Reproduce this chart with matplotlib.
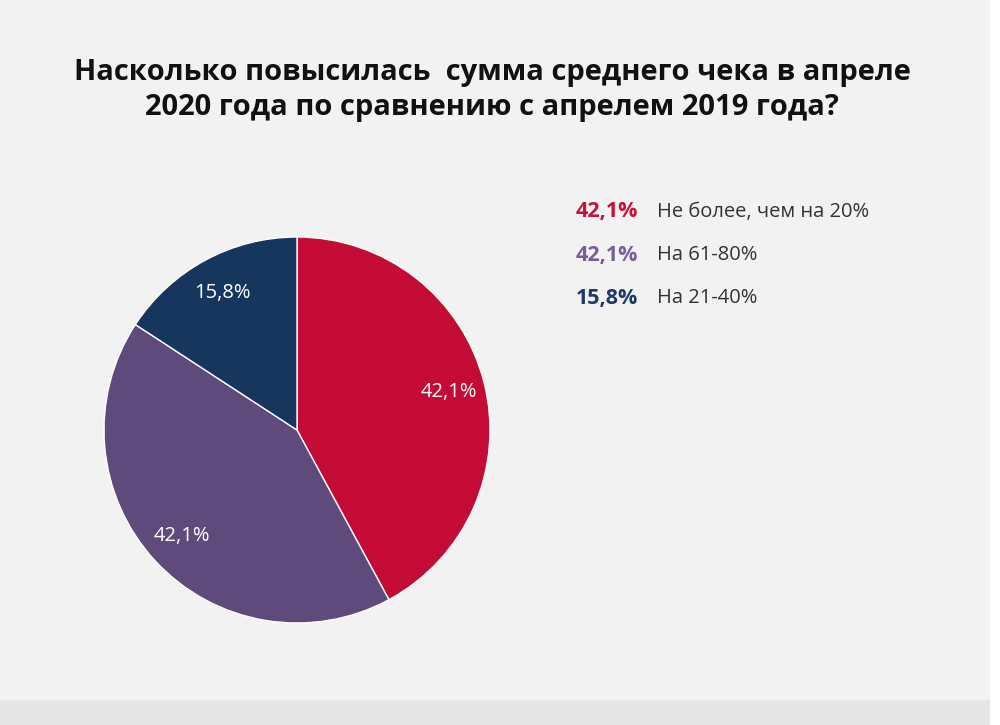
import matplotlib
matplotlib.use("Agg")
import matplotlib.pyplot as plt
from matplotlib.patches import Rectangle

title = "Насколько повысилась  сумма среднего чека в апреле\n2020 года по сравнению с апрелем 2019 года?"
categories = ["Не более, чем на 20%", "На 61-80%", "На 21-40%"]
values = [42.1, 42.1, 15.8]
pct_labels = ["42,1%", "42,1%", "15,8%"]
colors = ["#c30b36", "#5f4a7c", "#17365d"]
legend_colors = ["#c8103a", "#7a5c9c", "#1b3a68"]

W, H = 1000, 725
fig = plt.figure(figsize=(10, 7.25), dpi=100)
fig.patch.set_facecolor("#f2f2f2")

# bottom band and right stripe
fig.patches.append(Rectangle((0, 0), 1, 25 / H, transform=fig.transFigure,
                             facecolor="#e6e6e6", edgecolor="none", zorder=0))
fig.patches.append(Rectangle((990 / W, 0), 10 / W, 1, transform=fig.transFigure,
                             facecolor="#ffffff", edgecolor="none", zorder=0))

fig.text(0.492, 1 - 90 / H, title, ha="center", va="center", fontsize=21,
         fontweight="bold", family="Open Sans", color="#111111", linespacing=1.3)

cx, cy, r = 297, 430, 193
ax = fig.add_axes([(cx - r) / W, 1 - (cy + r) / H, 2 * r / W, 2 * r / H])
wedges, texts, autotexts = ax.pie(
    values, colors=colors, startangle=90, counterclock=False,
    labels=None, autopct=lambda p: "", pctdistance=0.81,
    wedgeprops=dict(edgecolor="white", linewidth=1.0))
for at, lab in zip(autotexts, pct_labels):
    at.set_text(lab)
    at.set_color("white")
    at.set_fontsize(14.5)
    at.set_family("Open Sans")
ax.set_xlim(-1, 1)
ax.set_ylim(-1, 1)
ax.set_axis_off()

ys = [212, 255, 298]
for y, pct, cat, c in zip(ys, pct_labels, categories, legend_colors):
    fig.text(576 / W, 1 - y / H, pct, ha="left", va="center", fontsize=15.5,
             fontweight="bold", family="Open Sans", color=c)
    fig.text(657 / W, 1 - y / H, cat, ha="left", va="center", fontsize=14.5,
             family="Open Sans", color="#333333")

fig.savefig("out.png", dpi=100, facecolor=fig.get_facecolor())
